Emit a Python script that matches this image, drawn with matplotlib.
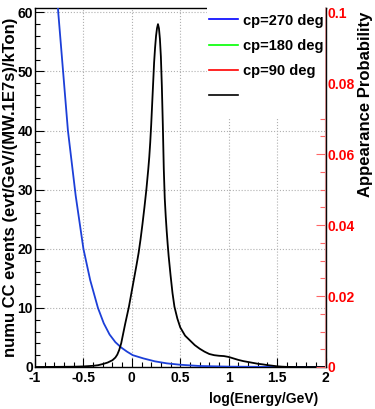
import matplotlib
matplotlib.use("Agg")
import matplotlib.pyplot as plt
from matplotlib.lines import Line2D
from matplotlib.patches import Rectangle
from matplotlib.ticker import MultipleLocator, FixedLocator, FixedFormatter

# blue curve (cp=270 deg)
blue_x = [-0.80, -0.76, -0.71, -0.66, -0.58, -0.50, -0.43, -0.35, -0.29, -0.23,
          -0.17, -0.11, -0.05, 0.01, 0.12, 0.24, 0.36, 0.50, 0.70, 1.00, 1.50, 2.00]
blue_y = [70.0, 60.0, 50.0, 40.0, 29.0, 20.0, 14.7, 10.0, 7.4, 5.5,
          4.2, 3.3, 2.6, 2.0, 1.45, 0.95, 0.62, 0.38, 0.17, 0.06, 0.01, 0.0]

# black histogram (numu CC events)
black_x = [-1.00, -0.80, -0.60, -0.50, -0.40, -0.35, -0.30, -0.25, -0.20, -0.17,
           -0.15, -0.13, -0.11, -0.09, -0.07, -0.05, -0.03, -0.01, 0.01, 0.03,
           0.05, 0.07, 0.09, 0.11, 0.13, 0.15, 0.17, 0.18, 0.19, 0.20,
           0.21, 0.22, 0.23, 0.24, 0.25, 0.26, 0.27, 0.28, 0.29, 0.30,
           0.31, 0.32, 0.33, 0.34, 0.35, 0.36, 0.37, 0.38, 0.40, 0.42,
           0.44, 0.47, 0.50, 0.55, 0.60, 0.65, 0.70, 0.75, 0.80, 0.85,
           0.90, 0.95, 1.00, 1.05, 1.10, 1.15, 1.20, 1.25, 1.30, 1.35,
           1.40, 1.45, 1.50, 1.55, 1.60, 1.70, 1.80, 2.00]
black_y = [0.0, 0.02, 0.05, 0.1, 0.2, 0.3, 0.5, 0.75, 1.15, 1.6,
           2.1, 2.9, 4.0, 5.6, 7.2, 8.7, 10.2, 12.0, 13.8, 15.6,
           17.4, 19.3, 21.6, 24.2, 27.0, 30.0, 33.5, 35.5, 38.0, 41.0,
           44.5, 48.0, 51.5, 54.0, 56.0, 57.3, 58.0, 57.3, 55.5, 52.5,
           47.5, 41.0, 33.5, 28.5, 25.5, 23.0, 20.8, 18.8, 15.5, 12.5,
           10.2, 8.2, 6.7, 5.3, 4.5, 3.7, 3.1, 2.6, 2.2, 2.0,
           1.9, 1.85, 1.7, 1.45, 1.2, 1.0, 0.85, 0.7, 0.55, 0.45,
           0.32, 0.22, 0.12, 0.06, 0.02, 0.0, 0.0, 0.0]

legend_labels = ["cp=270 deg", "cp=180 deg", "cp=90 deg", ""]
legend_colors = ["#0000ff", "#00ff00", "#ff0000", "black"]

x_ticks = [-1, -0.5, 0, 0.5, 1, 1.5, 2]
x_ticklabels = ["-1", "-0.5", "0", "0.5", "1", "1.5", "2"]
y_ticks = [0, 10, 20, 30, 40, 50, 60]
p_ticks = [0, 0.02, 0.04, 0.06, 0.08, 0.1]
p_ticklabels = ["0", "0.02", "0.04", "0.06", "0.08", "0.1"]

plt.rcParams['font.family'] = ['Liberation Sans', 'DejaVu Sans']
plt.rcParams['font.weight'] = 'bold'
plt.rcParams['axes.labelweight'] = 'bold'

W, H = 375, 409
fig = plt.figure(figsize=(W / 100, H / 100), dpi=100)
ax = fig.add_axes([35 / W, 1 - 367 / H, (325.5 - 35) / W, (367 - 8) / H])

ax.plot(blue_x, blue_y, color="#1c3fd8", lw=1.3, zorder=3)
ax.plot(black_x, black_y, color="black", lw=1.3, zorder=4)

ax.set_xlim(-1, 2)
ax.set_ylim(0, 60.73)
ax.xaxis.set_major_locator(FixedLocator(x_ticks))
ax.xaxis.set_major_formatter(FixedFormatter(x_ticklabels))
ax.xaxis.set_minor_locator(MultipleLocator(0.1))
ax.yaxis.set_major_locator(FixedLocator(y_ticks))
ax.yaxis.set_minor_locator(MultipleLocator(2))
ax.grid(True, which="major", color="#b0b0b0", ls=":", lw=0.8)
ax.tick_params(which="both", direction="in", top=False, right=False, labelsize=10)
ax.tick_params(which="major", length=6.5, width=0.8)
ax.tick_params(which="minor", length=3.5, width=0.8)
ax.tick_params(axis="x", pad=3)
ax.tick_params(axis="y", pad=1.5)
for s in ax.spines.values():
    s.set_linewidth(1.0)

ax.set_xlabel("log(Energy/GeV)", fontsize=10, fontweight="bold", loc="right")
ax.xaxis.set_label_coords((318 - 35) / 290.5, (367 - 392) / 359)
ax.set_ylabel("numu CC events (evt/GeV/(MW.1E7s)/kTon)", fontsize=12,
              fontweight="bold", loc="top")
ax.yaxis.set_label_coords((18 - 35) / 290.5, (367 - 18) / 359)

# right axis: appearance probability
ax2 = ax.twinx()
ax2.set_ylim(0, 0.10121)
ax2.yaxis.set_major_locator(FixedLocator(p_ticks))
ax2.yaxis.set_major_formatter(FixedFormatter(p_ticklabels))
ax2.yaxis.set_minor_locator(MultipleLocator(0.005))
ax2.tick_params(which="both", direction="in", colors="#ff6666", labelcolor="#ff0000",
                labelsize=10, pad=1.5)
ax2.tick_params(which="major", length=6.5, width=0.8)
ax2.tick_params(which="minor", length=3.5, width=0.8)
for k in ("left", "top", "bottom"):
    ax2.spines[k].set_visible(False)
ax2.spines["right"].set_color("#c88888")
ax2.set_ylabel("Appearance Probability", fontsize=12, fontweight="bold",
               loc="top", color="black")
ax2.yaxis.set_label_coords((358 - 35) / 290.5, (367 - 12) / 359)

# white legend box covering the top-right corner
fig.add_artist(Rectangle((207 / W, 1 - 118 / H), (324.5 - 207) / W, 118 / H,
                         transform=fig.transFigure, facecolor="white",
                         edgecolor="none", zorder=3))
handles = [Line2D([], [], color=c, lw=1.2) for c in legend_colors]
leg = fig.legend(handles, legend_labels, loc="upper left",
                 bbox_to_anchor=(209 / W, 1 - 13.6 / H), frameon=False,
                 fontsize=10.5, handlelength=2.0, handletextpad=0.3,
                 labelspacing=0.77, borderpad=0, borderaxespad=0)
leg.set_zorder(4)

fig.savefig("out.png", dpi=100)
